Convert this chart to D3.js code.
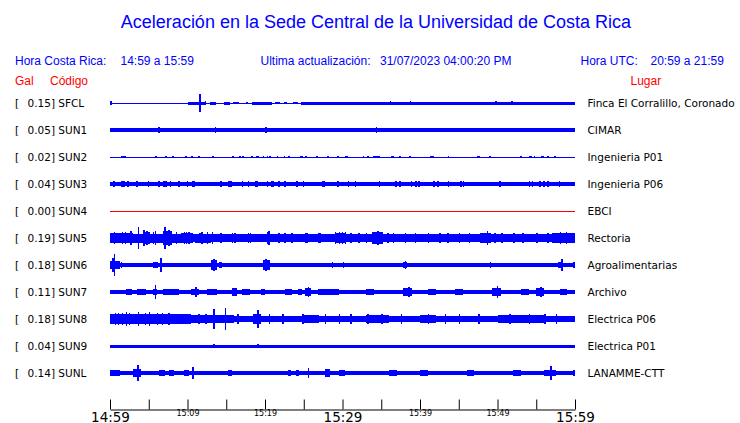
<!DOCTYPE html>
<html><head><meta charset="utf-8">
<script src="https://cdn.jsdelivr.net/npm/d3@7"></script>
<style>
html,body{margin:0;padding:0;background:#fff;}
svg{display:block;}
</style></head>
<body>
<svg id="chart" width="740" height="423"></svg>
<script>
// ---------------- DATA ----------------
const title = "Aceleración en la Sede Central de la Universidad de Costa Rica";
const headerLocal = ["Hora Costa Rica:", "14:59 a 15:59"];
const headerUpdate = ["Ultima actualización:", "31/07/2023 04:00:20 PM"];
const headerUTC = ["Hora UTC:", "20:59 a 21:59"];
const colHeaders = ["Gal", "Código", "Lugar"];

const stations = ["SFCL","SUN1","SUN2","SUN3","SUN4","SUN5","SUN6","SUN7","SUN8","SUN9","SUNL"];
const peakGal  = [0.15, 0.05, 0.02, 0.04, 0.00, 0.19, 0.18, 0.11, 0.18, 0.04, 0.14];
const places   = ["Finca El Corralillo, Coronado","CIMAR","Ingenieria P01","Ingenieria P06","EBCI",
                  "Rectoria","Agroalimentarias","Archivo","Electrica P06","Electrica P01","LANAMME-CTT"];
// background noise half-amplitude (Gal)
const baseGal  = [0.008, 0.027, 0.008, 0.028, 0.004, 0.06, 0.03, 0.03, 0.055, 0.025, 0.03];

// bursts: [startMinute, endMinute, halfAmplitudeGal]; spikes: [minute, halfAmplitudeGal]
const burstsSFCL = [[10,12.3,0.025],[12.9,13.7,0.025],[14.7,15.5,0.025],[15.9,16.6,0.02],[17.5,17.8,0.02],
  [18.3,20.9,0.025],[21.3,21.9,0.02],[22.4,22.8,0.02],[23.6,24.2,0.02],[24.6,60,0.025]];
const spikesSFCL = [[0,0.03],[11.5,0.15],[12.2,0.035],[36.1,0.04],[38.7,0.04],[49.7,0.04],[51.8,0.04]];

const burstsSUN1 = [];
const spikesSUN1 = [[6.2,0.045],[13.5,0.05],[15,0.04],[20,0.05],[21.7,0.04],[27.2,0.04],[34.3,0.05],
  [36.3,0.04],[50.3,0.04],[51.8,0.04],[58.9,0.04]];

const burstsSUN2 = [[1.4,2.1,0.022],[5.8,6.0,0.02],[7.1,7.4,0.022],[8.0,8.2,0.02],[9.7,9.9,0.022],[10.4,10.7,0.02],
  [11.4,11.6,0.02],[13.2,13.4,0.02],[15.8,16.0,0.02],[16.7,16.9,0.02],[17.0,17.3,0.022],[18.2,18.5,0.02],
  [18.8,19.2,0.022],[19.7,19.9,0.02],[20.2,20.4,0.02],[20.5,20.8,0.022],[21.5,21.7,0.02],[22.4,22.6,0.02],
  [23.0,23.2,0.02],[24.5,24.9,0.022],[25.2,25.4,0.02],[26.6,26.9,0.02],[28.0,28.2,0.02],[29.3,29.5,0.02],
  [30.3,30.7,0.022],[32.6,32.8,0.02],[33.2,33.4,0.02],[33.9,34.8,0.022],[36.2,36.6,0.022],[37.3,37.6,0.02],
  [38.6,38.9,0.022],[41.3,41.8,0.022],[43.6,43.8,0.02],[47.4,47.7,0.02],[48.9,49.2,0.022],[52.9,53.1,0.02],
  [54.0,54.5,0.022],[54.7,54.9,0.02],[55.6,56.0,0.022],[56.4,56.6,0.02],[57.3,57.5,0.02]];
const spikesSUN2 = [];

const burstsSUN3 = [];
const spikesSUN3 = [[0.4,0.045],[1.4,0.045],[1.6,0.045],[1.8,0.045],[2.2,0.045],[3.4,0.045],[4.9,0.045],[6.2,0.045],
  [6.9,0.045],[7.1,0.045],[7.7,0.045],[8.8,0.045],[9.9,0.045],[10.6,0.045],[10.8,0.045],[14.2,0.045],[15.2,0.045],
  [15.4,0.045],[15.6,0.045],[17,0.045],[17.8,0.045],[18.7,0.045],[18.9,0.045],[20.2,0.045],[20.8,0.045],[21.0,0.045],
  [21.7,0.045],[22.5,0.045],[24,0.045],[24.9,0.05],[27.3,0.045],[27.5,0.045],[29.3,0.045],[30.7,0.045],[31.6,0.045],
  [34.7,0.045],[36.8,0.045],[37.3,0.045],[38.8,0.045],[39.4,0.045],[39.8,0.045],[41.7,0.045],[42.2,0.045],[43.6,0.045],
  [45.2,0.045],[45.5,0.045],[50.2,0.045],[54.0,0.045],[54.4,0.045],[55.4,0.045],[55.9,0.045],[56.4,0.045],[57.9,0.045]];

const burstsSUN4 = [];
const spikesSUN4 = [];

const burstsSUN5 = [[0,3,0.08],[3,4.2,0.075],[4.2,5.2,0.1],[5.2,6.8,0.075],[6.8,8,0.11],[8,9.2,0.075],[9.2,10.7,0.09],
  [11,13,0.075],[13,16.5,0.07],[20.2,20.6,0.1],[21,26,0.068],[29,30.5,0.085],[33.8,35.2,0.1],[36,40,0.07],
  [42,47,0.07],[47.8,49.2,0.09],[50,56,0.07],[57,58.5,0.085],[58.5,60,0.08]];
const spikesSUN5 = [[0.5,0.1],[1.1,0.09],[1.5,0.1],[1.9,0.095],[2.6,0.11],[3.6,0.19],[4.3,0.13],[4.7,0.12],[5.5,0.1],
  [5.8,0.11],[7,0.19],[7.5,0.14],[8.5,0.1],[9.5,0.1],[9.8,0.1],[10.1,0.1],[11.5,0.09],[11.8,0.1],[12.5,0.1],
  [13.1,0.1],[14.2,0.09],[15.7,0.09],[16,0.08],[17.8,0.085],[18,0.08],[20.4,0.11],[21.7,0.09],[22.5,0.08],
  [23.4,0.09],[25.2,0.09],[25.3,0.08],[26.9,0.09],[27,0.08],[29,0.1],[29.5,0.1],[29.9,0.1],[30.3,0.1],[31,0.085],
  [32,0.08],[33,0.085],[34.5,0.12],[35.8,0.09],[36.5,0.09],[38,0.09],[39.3,0.085],[41,0.08],[42.5,0.085],
  [43.5,0.09],[45,0.08],[46.3,0.09],[48.6,0.11],[49.6,0.09],[50.5,0.09],[52,0.08],[53.2,0.09],[55,0.08],
  [56.4,0.09],[58,0.1],[58.8,0.095],[59.5,0.09]];

const burstsSUN6 = [[0,1.3,0.06],[5.5,6.2,0.05],[13,13.8,0.09],[14,14.5,0.045],[19.8,20.6,0.09],[37.8,38.3,0.045],
  [48.8,49.3,0.04],[57.8,58.5,0.05]];
const spikesSUN6 = [[0.3,0.12],[0.5,0.18],[1.4,0.05],[6.5,0.12],[7.1,0.04],[13.3,0.1],[20,0.1],[22.6,0.035],
  [24.9,0.035],[28.6,0.05],[30,0.05],[38,0.06],[44,0.04],[49,0.045],[58.2,0.1],[59.8,0.05]];

const burstsSUN7 = [[2,2.8,0.05],[3.5,4.7,0.05],[5.5,6.1,0.05],[6.8,8.9,0.045],[10.5,11.5,0.05],[12.5,13.8,0.045],
  [15.8,16.4,0.06],[17,18,0.045],[19.5,20,0.045],[22.6,23.5,0.055],[24.2,24.8,0.045],[25.2,25.9,0.06],
  [26.8,29.5,0.045],[33,34,0.05],[37.8,39,0.06],[41,42,0.05],[44.5,45.5,0.05],[49.3,50.5,0.07],[53,54,0.05],
  [55,56,0.06],[58,59,0.05]];
const spikesSUN7 = [[5.8,0.11],[11,0.09],[16.1,0.07],[25.5,0.08],[38.5,0.085],[49.9,0.1],[55.5,0.08]];

const burstsSUN8 = [[0,10.5,0.085],[10.5,16,0.07],[18.5,19.5,0.08],[25,27,0.07],[33,36,0.07],[40,42,0.065],[50,56,0.07]];
const spikesSUN8 = [[0.6,0.1],[1,0.1],[1.5,0.1],[2,0.11],[2.4,0.1],[3.6,0.12],[4.5,0.1],[5,0.11],[6,0.1],[6.7,0.1],
  [7.5,0.1],[8.4,0.09],[9,0.09],[10.2,0.09],[11.4,0.085],[12.3,0.09],[13.3,0.16],[14.8,0.18],[16.4,0.085],
  [19,0.15],[20.5,0.085],[22.2,0.08],[24.8,0.085],[27.7,0.09],[29.5,0.08],[31,0.08],[33.2,0.085],[35,0.09],
  [37.5,0.08],[41,0.08],[43.2,0.085],[45,0.08],[47.5,0.08],[51.5,0.09],[54,0.08],[56,0.085],[57.5,0.08]];

const burstsSUN9 = [];
const spikesSUN9 = [[13.3,0.04],[19,0.04]];

const burstsSUNL = [[0,1.3,0.045],[1.6,2.5,0.04],[3,4,0.06],[5,5.5,0.04],[6.3,7.1,0.05],[7.6,8.3,0.055],[9.6,10.2,0.05],
  [15.2,15.7,0.05],[21,21.4,0.04],[23,23.4,0.05],[24,24.4,0.05],[27.8,28.4,0.065],[29.5,30.3,0.05],[36,37,0.05],
  [40,41,0.045],[46,47,0.05],[52,53,0.045],[56,57.5,0.05]];
const spikesSUNL = [[3.5,0.14],[10.6,0.1],[25.5,0.09],[28.1,0.07],[56.8,0.11],[59.8,0.05]];

const tickMinutes = [0,5,10,15,20,25,30,35,40,45,50,55,60];
const tickLabels  = {0:"14:59",10:"15:09",20:"15:19",30:"15:29",40:"15:39",50:"15:49",60:"15:59"};
const majorLabels = ["14:59","15:29","15:59"];

// ---------------- DRAW ----------------
const bursts = [burstsSFCL,burstsSUN1,burstsSUN2,burstsSUN3,burstsSUN4,burstsSUN5,burstsSUN6,burstsSUN7,burstsSUN8,burstsSUN9,burstsSUNL];
const spikes = [spikesSFCL,spikesSUN1,spikesSUN2,spikesSUN3,spikesSUN4,spikesSUN5,spikesSUN6,spikesSUN7,spikesSUN8,spikesSUN9,spikesSUNL];

const svg = d3.select("#chart");
const BLUE = "#0000ff", RED = "#ff0000";
const HFONT = "'Liberation Sans', Arial, sans-serif";
const LFONT = "'DejaVu Sans', sans-serif";

const t0 = new Date(2023, 6, 31, 14, 59, 0);
const toDate = m => new Date(t0.getTime() + m * 60000);
const x = d3.scaleTime().domain([toDate(0), toDate(60)]).range([110, 575]);
const yRow = d3.scalePoint().domain(stations).range([103, 373]);
const amp = d3.scaleLinear().domain([-0.2, 0.2]).range([12, -12]);

// title
svg.append("text").attr("x", 376).attr("y", 28).attr("text-anchor", "middle")
  .attr("font-family", HFONT).attr("font-size", 18).attr("fill", BLUE).text(title);

// header rows
const hdr = (ty, px, txt, col) => svg.append("text").attr("x", px).attr("y", ty)
  .attr("font-family", HFONT).attr("font-size", 12).attr("fill", col).text(txt);
hdr(64.5, 15, headerLocal[0], BLUE);
hdr(64.5, 120.5, headerLocal[1], BLUE);
hdr(64.5, 260.5, headerUpdate[0], BLUE);
hdr(64.5, 380, headerUpdate[1], BLUE);
hdr(64.5, 580.5, headerUTC[0], BLUE);
hdr(64.5, 650.5, headerUTC[1], BLUE);
hdr(84.5, 15, colHeaders[0], RED);
hdr(84.5, 50, colHeaders[1], RED);
hdr(84.5, 630.5, colHeaders[2], RED);

// traces
stations.forEach((s, i) => {
  const cy = yRow(s);
  const col = peakGal[i] === 0 ? RED : BLUE;
  const g = svg.append("g").attr("transform", `translate(0,${cy})`)
    .attr("shape-rendering", "crispEdges");
  const band = (m0, m1, a) => {
    const h = Math.max(1, amp(-a) - amp(a));
    g.append("rect").attr("x", x(toDate(m0))).attr("width", Math.max(1, x(toDate(m1)) - x(toDate(m0))))
      .attr("y", -h / 2).attr("height", h).attr("fill", col);
  };
  band(0, 60, baseGal[i]);
  bursts[i].forEach(b => band(b[0], b[1], b[2]));
  spikes[i].forEach(sp => {
    const px = Math.min(x(toDate(sp[0])), 574);
    g.append("rect").attr("x", px).attr("width", 1.5)
      .attr("y", amp(sp[1])).attr("height", amp(-sp[1]) - amp(sp[1])).attr("fill", col);
  });

  // left labels
  svg.append("text").attr("x", 15).attr("y", cy + 4).attr("font-family", LFONT).attr("font-size", 10.5)
    .attr("fill", "#000").text("[");
  svg.append("text").attr("x", 27.5).attr("y", cy + 4).attr("font-family", LFONT).attr("font-size", 10.5)
    .attr("fill", "#000").text(peakGal[i].toFixed(2) + "] " + s);
  // right labels
  svg.append("text").attr("x", 587.5).attr("y", cy + 4).attr("font-family", LFONT).attr("font-size", 10.5)
    .attr("fill", "#000").text(places[i]);
});

// time axis
const axis = d3.axisBottom(x)
  .tickValues(tickMinutes.map(toDate))
  .tickSizeInner(-10).tickSizeOuter(0).tickPadding(4)
  .tickFormat((d, i) => tickLabels[tickMinutes[i]] || "");
const ax = svg.append("g").attr("transform", "translate(0,409.5)").call(axis);
ax.select(".domain").attr("stroke", "#000");
ax.selectAll(".tick line").attr("stroke", "#000");
ax.selectAll(".tick text")
  .attr("font-family", LFONT).attr("fill", "#000").attr("dy", null)
  .each(function() {
    const t = d3.select(this);
    const major = majorLabels.includes(t.text());
    t.attr("font-size", major ? 13.5 : 8).attr("y", major ? 12 : 6.5);
  });
</script>
</body></html>
